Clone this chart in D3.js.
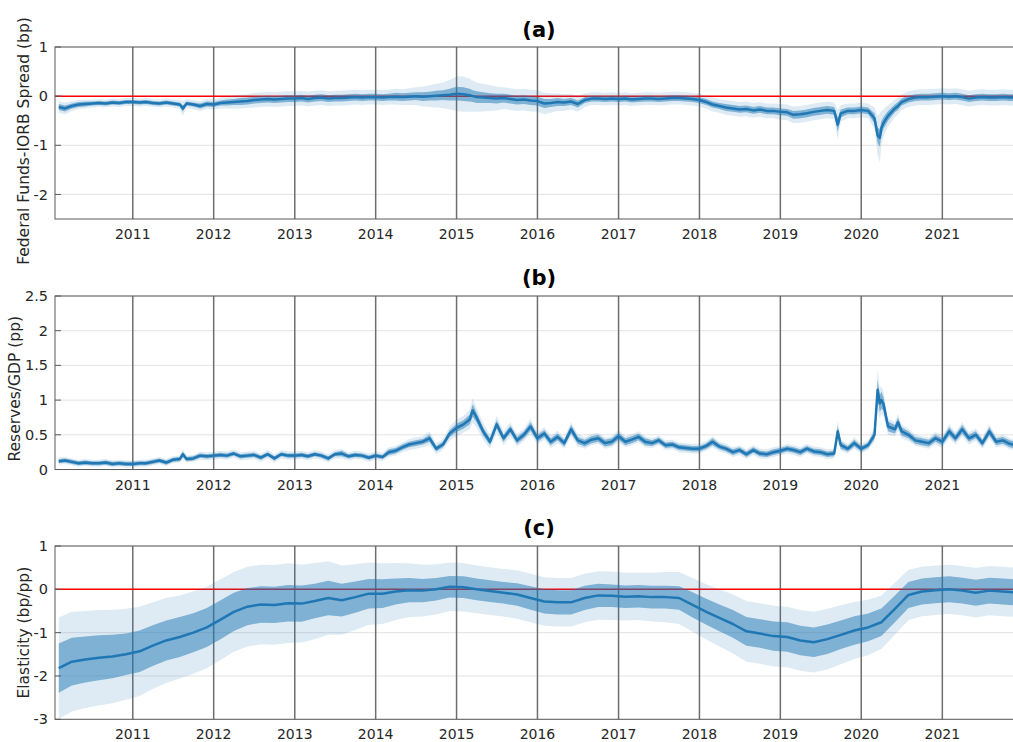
<!DOCTYPE html>
<html>
<head>
<meta charset="utf-8">
<script src="https://cdn.jsdelivr.net/npm/d3@7"></script>
<style>
  body { margin: 0; background: #fff; }
  text { font-family: "DejaVu Sans", sans-serif; fill: #262626; }
</style>
</head>
<body>
<svg id="chart" width="1013" height="742"></svg>
<script>
// dates for panels (a) and (b): monthly, plus a few extra points at the spikes
var datesAB = [
  "2010-02-01","2010-03-01","2010-04-01","2010-05-01","2010-06-01","2010-07-01","2010-08-01","2010-09-01","2010-10-01","2010-11-01","2010-12-01",
  "2011-01-01","2011-02-01","2011-03-01","2011-04-01","2011-05-01","2011-06-01","2011-07-01","2011-08-01","2011-08-15","2011-09-01","2011-10-01","2011-11-01","2011-12-01",
  "2012-01-01","2012-02-01","2012-03-01","2012-04-01","2012-05-01","2012-06-01","2012-07-01","2012-08-01","2012-09-01","2012-10-01","2012-11-01","2012-12-01",
  "2013-01-01","2013-02-01","2013-03-01","2013-04-01","2013-05-01","2013-06-01","2013-07-01","2013-08-01","2013-09-01","2013-10-01","2013-11-01","2013-12-01",
  "2014-01-01","2014-02-01","2014-03-01","2014-04-01","2014-05-01","2014-06-01","2014-07-01","2014-08-01","2014-09-01","2014-10-01","2014-11-01","2014-12-01",
  "2015-01-01","2015-02-01","2015-03-01","2015-03-15","2015-04-01","2015-05-01","2015-06-01","2015-07-01","2015-08-01","2015-09-01","2015-10-01","2015-11-01","2015-12-01",
  "2016-01-01","2016-02-01","2016-03-01","2016-04-01","2016-05-01","2016-06-01","2016-07-01","2016-08-01","2016-09-01","2016-10-01","2016-11-01","2016-12-01",
  "2017-01-01","2017-02-01","2017-03-01","2017-04-01","2017-05-01","2017-06-01","2017-07-01","2017-08-01","2017-09-01","2017-10-01","2017-11-01","2017-12-01",
  "2018-01-01","2018-02-01","2018-03-01","2018-04-01","2018-05-01","2018-06-01","2018-07-01","2018-08-01","2018-09-01","2018-10-01","2018-11-01","2018-12-01",
  "2019-01-01","2019-02-01","2019-03-01","2019-04-01","2019-05-01","2019-06-01","2019-07-01","2019-08-01","2019-09-01","2019-09-17","2019-10-01","2019-11-01","2019-12-01",
  "2020-01-01","2020-02-01","2020-03-01","2020-03-15","2020-03-25","2020-04-01","2020-04-10","2020-05-01","2020-06-01","2020-06-15","2020-07-01","2020-08-01","2020-09-01","2020-10-01","2020-11-01","2020-12-01",
  "2021-01-01","2021-02-01","2021-03-01","2021-04-01","2021-05-01","2021-06-01","2021-07-01","2021-08-01","2021-09-01","2021-10-01","2021-11-01","2021-12-01"
];

// (a) Federal Funds-IORB spread
var spreadMid = [
  -0.22,-0.25,-0.2,-0.17,-0.16,-0.15,-0.14,-0.15,-0.13,-0.14,-0.12,
  -0.12,-0.13,-0.12,-0.14,-0.15,-0.13,-0.15,-0.17,-0.25,-0.15,-0.17,-0.2,-0.16,
  -0.17,-0.14,-0.13,-0.12,-0.11,-0.1,-0.08,-0.07,-0.06,-0.07,-0.06,-0.05,
  -0.05,-0.04,-0.06,-0.04,-0.03,-0.05,-0.04,-0.04,-0.03,-0.02,-0.03,-0.02,
  -0.02,-0.03,-0.02,-0.01,-0.02,-0.01,0.0,-0.01,0.0,0.01,0.02,0.03,
  0.05,0.04,0.02,0.0,-0.02,-0.03,-0.04,-0.05,-0.04,-0.06,-0.08,-0.07,-0.09,
  -0.1,-0.15,-0.14,-0.12,-0.13,-0.11,-0.16,-0.08,-0.05,-0.05,-0.06,-0.05,
  -0.06,-0.05,-0.07,-0.06,-0.05,-0.05,-0.06,-0.05,-0.04,-0.04,-0.05,-0.06,
  -0.08,-0.12,-0.17,-0.2,-0.23,-0.25,-0.27,-0.26,-0.29,-0.27,-0.3,-0.3,
  -0.32,-0.33,-0.38,-0.37,-0.35,-0.32,-0.3,-0.28,-0.3,-0.58,-0.35,-0.3,-0.3,
  -0.28,-0.3,-0.45,-0.8,-0.85,-0.65,-0.55,-0.4,-0.25,-0.2,-0.12,-0.06,-0.03,-0.02,-0.02,-0.01,
  0.0,-0.01,0.0,-0.02,-0.05,-0.03,-0.02,-0.03,-0.03,-0.02,-0.03,-0.03
];
var spreadInner = [
  0.06,0.06,0.05,0.05,0.05,0.04,0.04,0.04,0.04,0.04,0.04,
  0.04,0.04,0.04,0.04,0.04,0.04,0.04,0.04,0.06,0.04,0.04,0.05,0.05,
  0.05,0.05,0.06,0.06,0.07,0.07,0.07,0.07,0.07,0.07,0.07,0.07,
  0.07,0.07,0.07,0.07,0.07,0.07,0.07,0.07,0.07,0.07,0.07,0.07,
  0.07,0.07,0.07,0.08,0.08,0.08,0.08,0.09,0.09,0.1,0.1,0.12,
  0.14,0.14,0.13,0.12,0.12,0.11,0.1,0.1,0.09,0.09,0.09,0.09,0.09,
  0.09,0.09,0.08,0.08,0.07,0.07,0.07,0.06,0.06,0.06,0.06,0.06,
  0.06,0.06,0.06,0.06,0.06,0.06,0.06,0.06,0.06,0.06,0.06,0.06,
  0.06,0.06,0.06,0.06,0.07,0.07,0.07,0.07,0.07,0.07,0.07,0.07,
  0.07,0.07,0.08,0.08,0.08,0.08,0.08,0.08,0.08,0.14,0.08,0.07,0.07,
  0.07,0.07,0.1,0.16,0.18,0.14,0.12,0.1,0.08,0.08,0.07,0.07,0.07,0.07,0.07,0.07,
  0.07,0.07,0.07,0.07,0.07,0.07,0.07,0.07,0.07,0.07,0.07,0.07
];
var spreadOuter = [
  0.12,0.12,0.1,0.09,0.09,0.08,0.08,0.08,0.08,0.08,0.08,
  0.08,0.08,0.08,0.08,0.08,0.08,0.08,0.09,0.15,0.09,0.09,0.1,0.1,
  0.1,0.11,0.12,0.13,0.14,0.14,0.15,0.15,0.15,0.15,0.15,0.15,
  0.15,0.15,0.15,0.15,0.15,0.15,0.15,0.15,0.15,0.15,0.15,0.15,
  0.15,0.15,0.15,0.16,0.16,0.17,0.18,0.2,0.22,0.24,0.26,0.3,
  0.35,0.36,0.34,0.32,0.3,0.28,0.26,0.24,0.22,0.22,0.22,0.22,0.22,
  0.22,0.22,0.2,0.18,0.17,0.16,0.16,0.14,0.13,0.13,0.13,0.13,
  0.13,0.13,0.13,0.13,0.13,0.13,0.13,0.13,0.13,0.13,0.13,0.13,
  0.13,0.13,0.14,0.14,0.15,0.15,0.15,0.15,0.15,0.15,0.15,0.15,
  0.16,0.16,0.17,0.17,0.17,0.17,0.17,0.17,0.17,0.3,0.17,0.15,0.15,
  0.15,0.15,0.22,0.4,0.5,0.35,0.28,0.22,0.18,0.17,0.16,0.16,0.16,0.16,0.16,0.16,
  0.16,0.16,0.16,0.16,0.16,0.16,0.16,0.16,0.16,0.16,0.16,0.16
];

// (b) Reserves/GDP
var reservesMid = [
  0.12,0.13,0.11,0.09,0.1,0.09,0.09,0.1,0.08,0.09,0.08,
  0.08,0.09,0.09,0.11,0.13,0.1,0.14,0.15,0.22,0.15,0.16,0.2,0.19,
  0.2,0.21,0.2,0.23,0.19,0.2,0.21,0.17,0.22,0.16,0.22,0.2,
  0.2,0.21,0.19,0.22,0.2,0.16,0.22,0.23,0.19,0.21,0.2,0.17,
  0.2,0.18,0.25,0.27,0.32,0.36,0.38,0.4,0.45,0.3,0.36,0.52,
  0.6,0.65,0.72,0.85,0.75,0.55,0.4,0.65,0.45,0.58,0.42,0.5,0.62,
  0.45,0.52,0.4,0.47,0.38,0.58,0.42,0.38,0.43,0.45,0.38,0.4,
  0.48,0.4,0.43,0.47,0.4,0.38,0.42,0.35,0.36,0.32,0.31,0.3,
  0.3,0.34,0.4,0.33,0.3,0.25,0.28,0.22,0.28,0.23,0.22,0.25,
  0.27,0.3,0.28,0.25,0.3,0.26,0.25,0.22,0.23,0.55,0.35,0.3,0.38,
  0.3,0.35,0.5,1.15,0.95,1.0,0.95,0.62,0.58,0.68,0.55,0.5,0.42,0.4,0.38,0.45,
  0.4,0.55,0.45,0.58,0.45,0.5,0.38,0.55,0.4,0.42,0.37,0.35
];
var reservesInner = [
  0.03,0.03,0.03,0.03,0.03,0.03,0.03,0.03,0.03,0.03,0.03,
  0.03,0.03,0.03,0.03,0.03,0.03,0.03,0.03,0.04,0.03,0.03,0.03,0.03,
  0.03,0.03,0.03,0.03,0.03,0.03,0.03,0.03,0.03,0.03,0.03,0.03,
  0.03,0.03,0.03,0.03,0.03,0.03,0.03,0.04,0.03,0.03,0.03,0.03,
  0.03,0.03,0.04,0.04,0.04,0.04,0.04,0.04,0.05,0.04,0.04,0.05,
  0.06,0.06,0.07,0.09,0.07,0.06,0.05,0.06,0.05,0.05,0.05,0.05,0.06,
  0.05,0.05,0.05,0.05,0.05,0.06,0.05,0.05,0.05,0.05,0.05,0.05,
  0.05,0.05,0.05,0.05,0.05,0.04,0.04,0.04,0.04,0.04,0.04,0.04,
  0.04,0.04,0.05,0.04,0.04,0.04,0.04,0.04,0.04,0.04,0.04,0.04,
  0.04,0.04,0.04,0.04,0.04,0.04,0.04,0.04,0.04,0.08,0.05,0.04,0.05,
  0.04,0.04,0.06,0.14,0.12,0.12,0.1,0.07,0.06,0.07,0.06,0.05,0.05,0.05,0.05,0.05,
  0.05,0.06,0.05,0.06,0.05,0.05,0.05,0.06,0.05,0.05,0.05,0.05
];
var reservesOuter = [
  0.05,0.05,0.05,0.05,0.05,0.05,0.05,0.05,0.05,0.05,0.05,
  0.05,0.05,0.05,0.05,0.05,0.05,0.05,0.05,0.07,0.05,0.05,0.06,0.06,
  0.06,0.06,0.06,0.06,0.06,0.06,0.06,0.06,0.06,0.06,0.06,0.06,
  0.06,0.06,0.06,0.06,0.06,0.06,0.06,0.07,0.06,0.06,0.06,0.06,
  0.06,0.06,0.07,0.07,0.07,0.08,0.08,0.08,0.1,0.08,0.08,0.1,
  0.12,0.12,0.14,0.18,0.14,0.12,0.1,0.12,0.1,0.1,0.09,0.09,0.11,
  0.09,0.09,0.09,0.09,0.08,0.1,0.09,0.08,0.08,0.08,0.08,0.08,
  0.09,0.08,0.08,0.08,0.08,0.07,0.07,0.07,0.07,0.07,0.07,0.07,
  0.07,0.07,0.08,0.07,0.07,0.07,0.07,0.07,0.07,0.07,0.07,0.07,
  0.07,0.07,0.07,0.07,0.07,0.07,0.07,0.07,0.07,0.15,0.08,0.07,0.08,
  0.07,0.07,0.1,0.3,0.22,0.2,0.18,0.12,0.1,0.12,0.1,0.09,0.08,0.08,0.08,0.09,
  0.09,0.1,0.09,0.1,0.09,0.09,0.08,0.1,0.08,0.08,0.08,0.08
];

// (c) Elasticity, every two months
var datesC = [
  "2010-02-01","2010-04-01","2010-06-01","2010-08-01","2010-10-01","2010-12-01",
  "2011-02-01","2011-04-01","2011-06-01","2011-08-01","2011-10-01","2011-12-01",
  "2012-02-01","2012-04-01","2012-06-01","2012-08-01","2012-10-01","2012-12-01",
  "2013-02-01","2013-04-01","2013-06-01","2013-08-01","2013-10-01","2013-12-01",
  "2014-02-01","2014-04-01","2014-06-01","2014-08-01","2014-10-01","2014-12-01",
  "2015-02-01","2015-04-01","2015-06-01","2015-08-01","2015-10-01","2015-12-01",
  "2016-02-01","2016-04-01","2016-06-01","2016-08-01","2016-10-01","2016-12-01",
  "2017-02-01","2017-04-01","2017-06-01","2017-08-01","2017-10-01","2017-12-01",
  "2018-02-01","2018-04-01","2018-06-01","2018-08-01","2018-10-01","2018-12-01",
  "2019-02-01","2019-04-01","2019-06-01","2019-08-01","2019-10-01","2019-12-01",
  "2020-02-01","2020-04-01","2020-06-01","2020-08-01","2020-10-01","2020-12-01",
  "2021-02-01","2021-04-01","2021-06-01","2021-08-01","2021-10-01","2021-12-01"
];
var elasticityMid = [
  -1.82,-1.67,-1.62,-1.58,-1.55,-1.5,
  -1.43,-1.3,-1.18,-1.1,-1.0,-0.88,
  -0.7,-0.52,-0.4,-0.35,-0.36,-0.32,
  -0.33,-0.27,-0.2,-0.25,-0.18,-0.1,
  -0.1,-0.05,-0.02,-0.03,0.0,0.06,
  0.05,0.0,-0.04,-0.08,-0.12,-0.2,
  -0.28,-0.3,-0.3,-0.2,-0.14,-0.15,
  -0.17,-0.16,-0.18,-0.18,-0.2,-0.36,
  -0.52,-0.66,-0.8,-0.97,-1.02,-1.08,
  -1.1,-1.18,-1.22,-1.15,-1.05,-0.95,
  -0.88,-0.76,-0.45,-0.13,-0.05,-0.02,
  0.0,-0.03,-0.08,-0.03,-0.05,-0.07
];
var elasticityInner = [
  0.57,0.55,0.53,0.52,0.5,0.48,
  0.48,0.47,0.46,0.46,0.45,0.45,
  0.45,0.44,0.43,0.42,0.42,0.42,
  0.42,0.4,0.4,0.38,0.36,0.34,
  0.33,0.3,0.28,0.27,0.26,0.25,
  0.25,0.25,0.25,0.25,0.26,0.27,
  0.28,0.28,0.28,0.28,0.27,0.26,
  0.26,0.26,0.26,0.26,0.27,0.29,
  0.3,0.31,0.32,0.33,0.33,0.34,
  0.34,0.34,0.34,0.34,0.33,0.33,
  0.32,0.32,0.31,0.3,0.3,0.3,
  0.3,0.3,0.3,0.3,0.3,0.3
];
var elasticityOuter = [
  1.17,1.15,1.12,1.1,1.08,1.05,
  1.03,1.0,0.98,0.96,0.95,0.94,
  0.93,0.92,0.92,0.92,0.92,0.92,
  0.9,0.88,0.85,0.8,0.76,0.72,
  0.7,0.66,0.62,0.6,0.58,0.56,
  0.56,0.55,0.55,0.55,0.56,0.56,
  0.56,0.56,0.56,0.56,0.56,0.56,
  0.55,0.55,0.56,0.58,0.6,0.62,
  0.64,0.66,0.68,0.7,0.7,0.7,
  0.7,0.7,0.7,0.7,0.68,0.66,
  0.64,0.62,0.6,0.58,0.57,0.57,
  0.57,0.57,0.57,0.57,0.57,0.57
];

var yearTicks = [2011, 2012, 2013, 2014, 2015, 2016, 2017, 2018, 2019, 2020, 2021];

var parse = d3.timeParse("%Y-%m-%d");
var svg = d3.select("#chart");

var x = d3.scaleTime()
    .domain([parse("2010-01-15"), parse("2021-12-31")])
    .range([55, 1023]);

var panels = [
  { title: "(a)", label: "Federal Funds-IORB Spread (bp)", top: 47, bottom: 219, domain: [-2.5, 1],
    ticks: [-2, -1, 0, 1], red: true, labelX: 29, labelShift: 8, titleY: 37,
    dates: datesAB, mid: spreadMid, inner: spreadInner, outer: spreadOuter },
  { title: "(b)", label: "Reserves/GDP (pp)", top: 296, bottom: 469.5, domain: [0, 2.5],
    ticks: [0, 0.5, 1, 1.5, 2, 2.5], red: false, labelX: 20, labelShift: 6, titleY: 285,
    dates: datesAB, mid: reservesMid, inner: reservesInner, outer: reservesOuter },
  { title: "(c)", label: "Elasticity (bp/pp)", top: 546, bottom: 719.3, domain: [-3, 1],
    ticks: [-3, -2, -1, 0, 1], red: true, labelX: 29, labelShift: 0, titleY: 535,
    dates: datesC, mid: elasticityMid, inner: elasticityInner, outer: elasticityOuter }
];

var defs = svg.append("defs");

panels.forEach(function (p, i) {
    var y = d3.scaleLinear().domain(p.domain).range([p.bottom, p.top]);
    var rows = p.dates.map(function (d, k) {
        return { date: parse(d), mid: p.mid[k], inner: p.inner[k], outer: p.outer[k] };
    });

    defs.append("clipPath").attr("id", "clip" + i)
      .append("rect")
        .attr("x", x.range()[0]).attr("y", p.top)
        .attr("width", x.range()[1] - x.range()[0]).attr("height", p.bottom - p.top);

    var g = svg.append("g");

    // horizontal grid
    g.selectAll(".grid").data(p.ticks).enter().append("line")
        .attr("x1", x.range()[0]).attr("x2", x.range()[1])
        .attr("y1", function (d) { return y(d); })
        .attr("y2", function (d) { return y(d); })
        .attr("stroke", "#e3e3e3").attr("stroke-width", 1);

    // vertical year lines
    g.selectAll(".yr").data(yearTicks).enter().append("line")
        .attr("x1", function (d) { return x(new Date(d, 0, 1)); })
        .attr("x2", function (d) { return x(new Date(d, 0, 1)); })
        .attr("y1", p.top).attr("y2", p.bottom)
        .attr("stroke", "#6e6e6e").attr("stroke-width", 1.5);

    if (p.red) {
        g.append("line")
            .attr("x1", x.range()[0]).attr("x2", x.range()[1])
            .attr("y1", y(0)).attr("y2", y(0))
            .attr("stroke", "#ff0000").attr("stroke-width", 1.5);
    }

    var plot = g.append("g").attr("clip-path", "url(#clip" + i + ")");

    var outerArea = d3.area()
        .x(function (d) { return x(d.date); })
        .y0(function (d) { return y(d.mid - d.outer); })
        .y1(function (d) { return y(d.mid + d.outer); });
    var innerArea = d3.area()
        .x(function (d) { return x(d.date); })
        .y0(function (d) { return y(d.mid - d.inner); })
        .y1(function (d) { return y(d.mid + d.inner); });
    var line = d3.line()
        .x(function (d) { return x(d.date); })
        .y(function (d) { return y(d.mid); });

    plot.append("path").datum(rows).attr("d", outerArea)
        .attr("fill", "#1f77b4").attr("fill-opacity", 0.15);
    plot.append("path").datum(rows).attr("d", innerArea)
        .attr("fill", "#1f77b4").attr("fill-opacity", 0.5);
    plot.append("path").datum(rows).attr("d", line)
        .attr("fill", "none").attr("stroke", "#1f77b4").attr("stroke-width", 2.5)
        .attr("stroke-linejoin", "round");

    // frame
    g.append("rect")
        .attr("x", x.range()[0]).attr("y", p.top)
        .attr("width", x.range()[1] - x.range()[0]).attr("height", p.bottom - p.top)
        .attr("fill", "none").attr("stroke", "#5a5a5a").attr("stroke-width", 1);

    // y ticks (inside) and labels
    g.selectAll(".yt").data(p.ticks).enter().append("line")
        .attr("x1", x.range()[0]).attr("x2", x.range()[0] + 6)
        .attr("y1", function (d) { return y(d); })
        .attr("y2", function (d) { return y(d); })
        .attr("stroke", "#5a5a5a");
    g.selectAll(".ytl").data(p.ticks).enter().append("text")
        .attr("x", x.range()[0] - 7)
        .attr("y", function (d) { return y(d); })
        .attr("dy", "0.35em")
        .attr("text-anchor", "end")
        .style("font-size", "14.5px")
        .text(function (d) { return String(d); });

    // x tick labels
    g.selectAll(".xtl").data(yearTicks).enter().append("text")
        .attr("x", function (d) { return x(new Date(d, 0, 1)); })
        .attr("y", p.bottom + 20)
        .attr("text-anchor", "middle")
        .style("font-size", "14px")
        .text(function (d) { return d; });

    // y label
    g.append("text")
        .attr("transform", "translate(" + p.labelX + "," + ((p.top + p.bottom) / 2 + p.labelShift) + ") rotate(-90)")
        .attr("text-anchor", "middle")
        .style("font-size", "15.5px")
        .text(p.label);

    // title
    g.append("text")
        .attr("x", (x.range()[0] + x.range()[1]) / 2)
        .attr("y", p.titleY)
        .attr("text-anchor", "middle")
        .style("font-size", "21px").style("font-weight", "bold")
        .style("fill", "#000")
        .text(p.title);
});
</script>
</body>
</html>
